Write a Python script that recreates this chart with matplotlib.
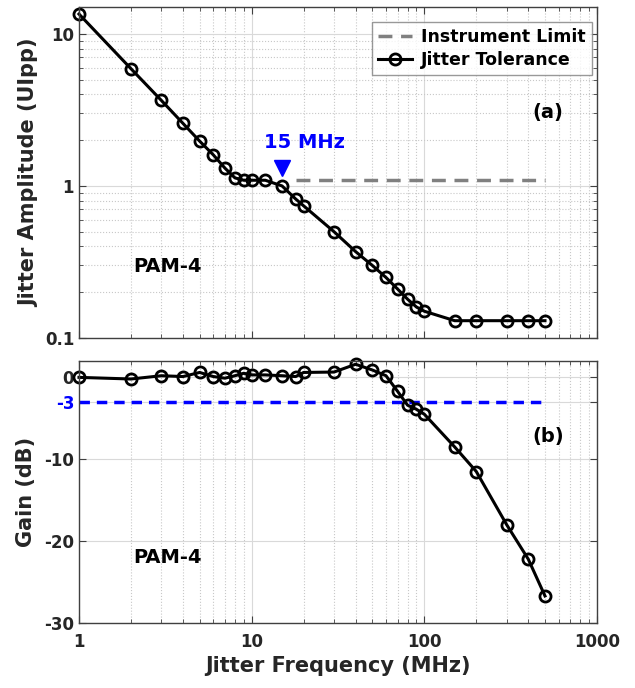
import numpy as np
import matplotlib.pyplot as plt
from matplotlib.ticker import NullFormatter

# jitter frequency (MHz)
freq = [1, 2, 3, 4, 5, 6, 7, 8, 9, 10, 12, 15, 18, 20, 30, 40, 50, 60, 70, 80, 90, 100,
        150, 200, 300, 400, 500]

# jitter tolerance (UIpp)
jtol = [13.5, 5.9, 3.65, 2.58, 1.97, 1.6, 1.31, 1.13, 1.09, 1.09, 1.09, 1.0, 0.82, 0.74,
        0.50, 0.37, 0.30, 0.25, 0.21, 0.18, 0.16, 0.15, 0.13, 0.13, 0.13, 0.13, 0.13]

# gain (dB)
gain = [0.0, -0.2, 0.2, 0.1, 0.6, 0.1, -0.1, 0.2, 0.5, 0.3, 0.3, 0.2, 0.1, 0.6,
        0.65, 1.6, 0.9, 0.2, -1.7, -3.4, -3.9, -4.5, -8.5, -11.5, -18.0, -22.2, -26.7]

limit_x = [18, 500]
limit_y = [1.1, 1.1]
gain_3db_x = [1, 500]
gain_3db_y = [-3, -3]
corner_freq = 15

plt.rcParams['font.family'] = 'DejaVu Sans'
plt.rcParams['font.weight'] = 'bold'

fig = plt.figure(figsize=(6.35, 6.88), dpi=100)
ax1 = fig.add_axes([0.1244, 0.5087, 0.8157, 0.481])
ax2 = fig.add_axes([0.1244, 0.0945, 0.8157, 0.3808])

spine_col = '#404040'
for ax in (ax1, ax2):
    ax.set_xscale('log')
    ax.set_xlim(1, 1000)
    ax.grid(True, which='major', color='#d9d9d9', linestyle='-', linewidth=0.8)
    ax.grid(True, which='minor', axis='x', color='#c8c8c8', linestyle=':', linewidth=0.8)
    ax.tick_params(which='both', direction='in', top=True, right=True, colors=spine_col,
                   labelcolor='#262626', labelsize=12)
    ax.tick_params(which='major', length=5)
    ax.tick_params(which='minor', length=3)
    for s in ax.spines.values():
        s.set_color(spine_col)
        s.set_linewidth(1.0)
    ax.set_axisbelow(True)

# Create plots - top panel (a)
ax1.set_yscale('log')
ax1.set_ylim(0.1, 15)
ax1.grid(True, which='minor', axis='y', color='#c8c8c8', linestyle=':', linewidth=0.8)
ax1.plot(limit_x, limit_y, '--', color='#808080', linewidth=2.5, dashes=(4, 2.5),
         label='Instrument Limit')
ax1.plot(freq, jtol, 'k-', linewidth=2.2, marker='o', markersize=8, markerfacecolor='none',
         markeredgewidth=2, clip_on=False, label='Jitter Tolerance')
ax1.plot([corner_freq], [1.32], 'v', color='blue', markersize=12)
ax1.text(corner_freq * 1.35, 1.68, '15 MHz', color='blue', fontsize=14, fontweight='bold',
         ha='center', va='bottom')
ax1.text(0.905, 0.68, '(a)', transform=ax1.transAxes, fontsize=14, fontweight='bold',
         ha='center', va='center')
ax1.text(0.17, 0.215, 'PAM-4', transform=ax1.transAxes, fontsize=14, fontweight='bold',
         ha='center', va='center')
ax1.set_yticks([0.1, 1, 10])
ax1.set_yticklabels(['0.1', '1', '10'])
ax1.yaxis.set_minor_formatter(NullFormatter())
ax1.xaxis.set_major_formatter(NullFormatter())
ax1.set_ylabel('Jitter Amplitude (UIpp)', fontsize=15, fontweight='bold', color='#262626')
leg = ax1.legend(loc='upper right', fontsize=12.5, frameon=True, fancybox=False,
                 handlelength=2.0, borderpad=0.35, labelspacing=0.3, handletextpad=0.5,
                 borderaxespad=0, bbox_to_anchor=(0.99, 0.955))
leg.get_frame().set_edgecolor('#808080')
leg.get_frame().set_linewidth(1.0)

# bottom panel (b)
ax2.set_ylim(-30, 2)
ax2.plot(gain_3db_x, gain_3db_y, '--', color='blue', linewidth=2.5, dashes=(3, 2))
ax2.plot(freq, gain, 'k-', linewidth=2.2, marker='o', markersize=8, markerfacecolor='none',
         markeredgewidth=2, clip_on=False)
ax2.text(0.905, 0.71, '(b)', transform=ax2.transAxes, fontsize=14, fontweight='bold',
         ha='center', va='center')
ax2.text(0.17, 0.25, 'PAM-4', transform=ax2.transAxes, fontsize=14, fontweight='bold',
         ha='center', va='center')
ax2.set_yticks([-30, -20, -10, -3, 0])
ax2.set_yticklabels(['-30', '-20', '-10', '-3', '0'])
ax2.get_yticklabels()[3].set_color('blue')
ax2.set_xticks([1, 10, 100, 1000])
ax2.set_xticklabels(['1', '10', '100', '1000'])
ax2.xaxis.set_minor_formatter(NullFormatter())
ax2.tick_params(axis='x', pad=7)
ax2.set_ylabel('Gain (dB)', fontsize=15, fontweight='bold', color='#262626', labelpad=6)
ax2.set_xlabel('Jitter Frequency (MHz)', fontsize=15, fontweight='bold', color='#262626')

fig.savefig('out.png', dpi=100)
